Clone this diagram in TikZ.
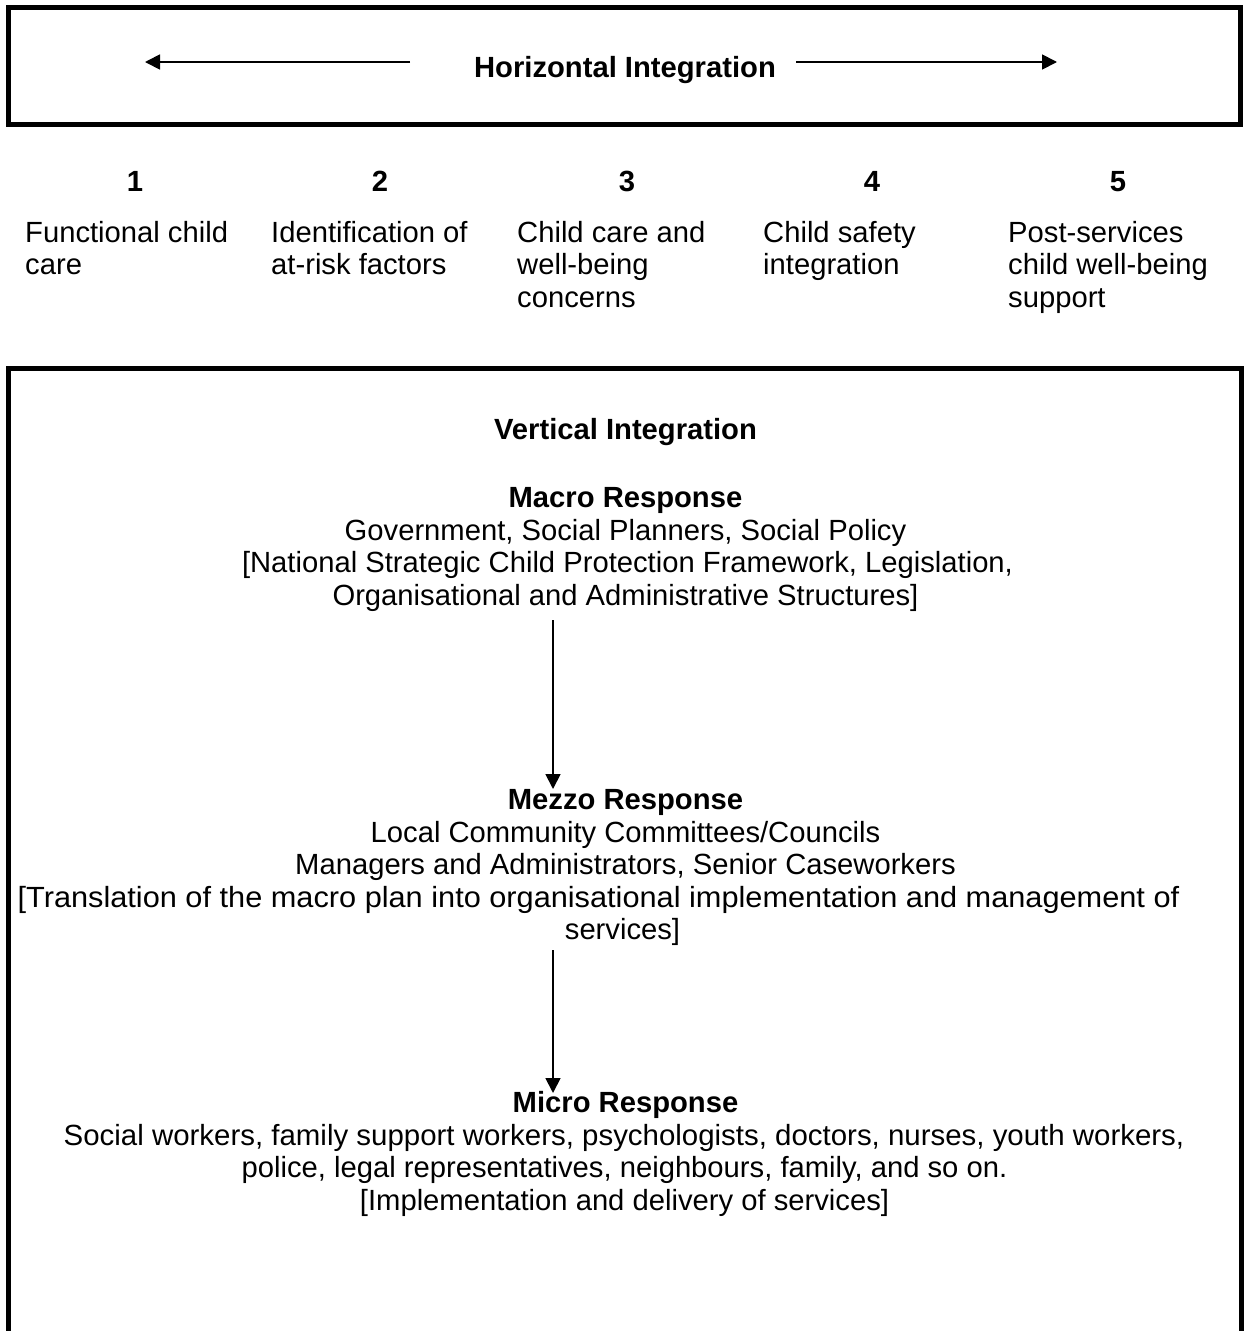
\documentclass[tikz,border=0pt]{standalone}
\usepackage{fontspec}
\setmainfont{Liberation Sans}
\usetikzlibrary{arrows.meta}
\begin{document}
\begin{tikzpicture}[x=1pt,y=-1pt,
  txt/.style={anchor=base,inner sep=0pt,font=\fontsize{29.2}{33}\selectfont},
  btxt/.style={anchor=base,inner sep=0pt,font=\fontsize{29.2}{33}\selectfont\bfseries},
  ltxt/.style={anchor=base west,inner sep=0pt,font=\fontsize{29.2}{33}\selectfont},
  frame/.style={line width=5.5pt},
  arr/.style={line width=1.8pt,-{Triangle[length=15pt,width=15pt]}}]
\useasboundingbox (0,0) rectangle (1245,1331);
% top box
\draw[frame] (8.5,7.5) rectangle (1240.5,124.5);
\node[btxt] (htitle) at (625,77) {Horizontal Integration};
\coordinate (hlt) at (410,62);
\coordinate (hl) at (145,62);
\coordinate (hrt) at (796,62);
\coordinate (hr) at (1057,62);
\draw[arr] (hlt) -- (hl);
\draw[arr] (hrt) -- (hr);
% columns
\node[btxt] (n1) at (135,191.5) {1};
\node[btxt] (n2) at (380,191.5) {2};
\node[btxt] (n3) at (627,191.5) {3};
\node[btxt] (n4) at (872,191.5) {4};
\node[btxt] (n5) at (1118,191.5) {5};
\node[ltxt] (c1a) at (25,242) {Functional child};
\node[ltxt] (c1b) at (25,274.5) {care};
\node[ltxt] (c2a) at (271,242) {Identification of};
\node[ltxt] (c2b) at (271,274.5) {at-risk factors};
\node[ltxt] (c3a) at (517,242) {Child care and};
\node[ltxt] (c3b) at (517,274.5) {well-being};
\node[ltxt] (c3c) at (517,307) {concerns};
\node[ltxt] (c4a) at (763,242) {Child safety};
\node[ltxt] (c4b) at (763,274.5) {integration};
\node[ltxt] (c5a) at (1008,242) {Post-services};
\node[ltxt] (c5b) at (1008,274.5) {child well-being};
\node[ltxt] (c5c) at (1008,307) {support};
% bottom box
\draw[frame] (8.5,1331) -- (8.5,368.5) -- (1241.5,368.5) -- (1241.5,1331);
\node[btxt] (vtitle) at (625.5,439.5) {Vertical Integration};
\node[btxt] (macro) at (625.5,507.5) {Macro Response};
\node[txt] (ma1) at (625.5,540) {Government, Social Planners, Social Policy};
\node[txt] (ma2) at (627.5,572.5) {[National Strategic Child Protection Framework, Legislation,};
\node[txt] (ma3) at (625.5,605) {Organisational and Administrative Structures]};
\node[btxt] (mezzo) at (625.5,809.5) {Mezzo Response};
\node[txt] (me1) at (625.5,842) {Local Community Committees/Councils};
\node[txt] (me2) at (625.5,874.5) {Managers and Administrators, Senior Caseworkers};
\node[txt,xscale=1.052,transform shape] (me3) at (598.5,907) {[Translation of the macro plan into organisational implementation and management of};
\node[txt] (me4) at (622.5,939.5) {services]};
\node[btxt] (micro) at (625.5,1112.5) {Micro Response};
\node[txt,xscale=1.008,transform shape] (mi1) at (624,1145) {Social workers, family support workers, psychologists, doctors, nurses, youth workers,};
\node[txt] (mi2) at (624.5,1177.5) {police, legal representatives, neighbours, family, and so on.};
\node[txt] (mi3) at (624.5,1210) {[Implementation and delivery of services]};
% vertical arrows
\coordinate (v1s) at (553,620);
\coordinate (v1e) at (553,789);
\coordinate (v2s) at (553,950);
\coordinate (v2e) at (553,1093);
\draw[arr] (v1s) -- (v1e);
\draw[arr] (v2s) -- (v2e);
\end{tikzpicture}
\end{document}
